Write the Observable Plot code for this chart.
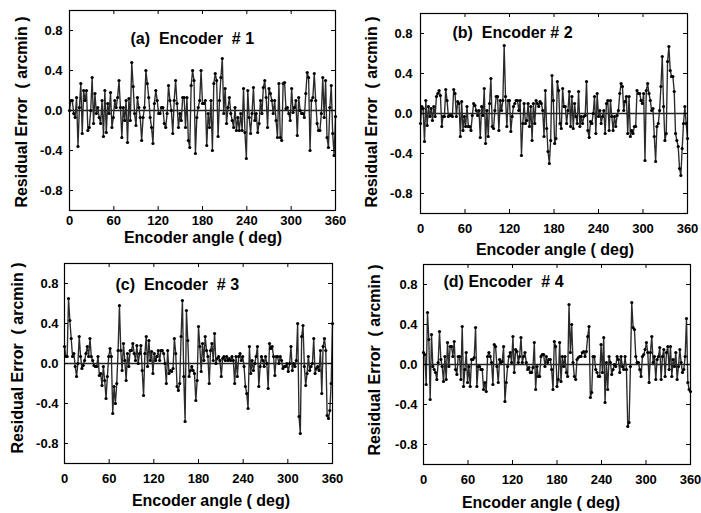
<!DOCTYPE html>
<html>
<head>
<meta charset="utf-8">
<script src="https://cdn.jsdelivr.net/npm/d3@7"></script>
<script src="https://cdn.jsdelivr.net/npm/@observablehq/plot@0.6"></script>
<style>
  html, body { margin: 0; padding: 0; background: #fff; }
  #wrap { position: relative; width: 701px; height: 513px; overflow: hidden;
          font-family: Arial, "Liberation Sans", Helvetica, sans-serif; font-weight: bold; color: #000; }
  #wrap svg { position: absolute; overflow: visible; }
  #wrap svg text { white-space: pre; }
  .xt, .yt { position: absolute; font-size: 16px; white-space: pre; line-height: 1; }
  .xt { transform: translate(-50%, -50%); }
  .yt { transform: translate(-50%, -50%) rotate(-90deg); }
</style>
</head>
<body>
<div id="wrap"></div>
<script>
// ---- data (residual error in arcmin, sampled uniformly from 0 to 360 deg) ----
const xTicks = [0, 60, 120, 180, 240, 300, 360];
const yTicks = [-0.8, -0.4, 0.0, 0.4, 0.8];
const xTitle = "Encoder angle ( deg)";
const yTitle = "Residual Error  ( arcmin )";
const panelLabels = ["(a)  Encoder  # 1", "(b)  Encoder # 2", "(c)  Encoder  # 3", "(d) Encoder  # 4"];

const encoder1 = [0.00,0.10,0.10,-0.03,-0.07,0.13,-0.36,0.03,0.27,-0.23,0.20,0.10,0.20,-0.20,-0.17,0.00,0.33,-0.13,0.17,-0.03,
0.03,-0.07,-0.13,0.10,-0.26,0.20,-0.22,0.07,-0.03,0.18,-0.17,-0.07,0.10,0.03,0.13,0.30,0.03,-0.27,0.03,-0.10,
0.10,-0.32,0.12,-0.10,0.48,0.24,-0.03,-0.15,0.13,0.03,-0.07,-0.30,-0.07,0.03,0.40,0.27,0.13,-0.07,-0.17,-0.33,
0.07,0.20,0.10,-0.03,-0.03,0.03,0.03,-0.13,-0.17,-0.03,0.25,0.10,0.00,-0.23,0.10,0.30,0.07,-0.17,-0.03,-0.10,
0.13,0.13,-0.17,0.13,-0.30,-0.37,0.25,0.40,0.30,-0.43,-0.07,0.03,0.10,0.40,0.07,0.07,0.10,-0.35,-0.03,-0.17,
0.10,-0.40,0.27,0.37,0.30,-0.26,0.10,0.33,0.52,-0.03,0.22,-0.13,0.03,0.13,-0.03,-0.10,-0.17,0.03,-0.20,-0.07,
-0.20,-0.03,-0.20,0.22,-0.22,-0.48,0.20,-0.07,-0.23,-0.03,0.23,-0.10,-0.03,-0.22,-0.13,0.10,-0.03,0.23,0.30,0.13,
-0.17,0.22,0.17,0.10,-0.03,0.10,-0.10,-0.27,0.27,-0.27,-0.30,0.27,0.28,0.02,0.03,-0.03,-0.10,0.22,-0.02,0.03,
0.10,-0.25,0.13,0.00,-0.03,-0.03,-0.07,0.17,0.38,0.33,-0.40,0.10,0.13,0.37,0.10,-0.13,-0.20,-0.20,-0.03,0.33,
-0.07,0.30,-0.27,-0.37,0.03,0.25,-0.23,-0.45,-0.06];

const encoder2 = [-0.10,0.07,0.05,-0.28,0.13,-0.12,0.07,-0.03,0.05,-0.07,0.07,-0.03,0.17,0.20,0.23,0.18,-0.13,-0.03,-0.03,0.24,
0.13,-0.03,-0.02,-0.02,-0.03,0.24,0.20,-0.03,0.12,0.10,-0.23,0.12,-0.17,-0.03,-0.13,0.07,-0.13,-0.13,-0.17,-0.02,
0.10,0.08,0.03,-0.02,0.03,-0.24,0.07,-0.02,0.25,-0.30,0.03,-0.23,0.10,0.35,-0.13,-0.15,0.03,0.17,0.17,-0.17,
0.13,0.03,0.13,0.68,0.17,-0.13,0.13,0.13,-0.18,-0.03,0.07,0.10,0.13,0.13,0.03,0.13,-0.42,-0.10,0.10,-0.10,
-0.07,0.10,-0.13,0.07,-0.27,0.10,-0.10,0.13,0.10,0.07,0.12,0.10,0.03,-0.23,0.23,-0.15,-0.38,-0.50,-0.27,0.38,
0.13,-0.30,-0.25,0.32,0.23,-0.10,-0.15,0.25,0.07,0.07,-0.10,0.03,0.22,-0.13,0.17,-0.15,0.10,-0.03,-0.10,0.22,
-0.13,-0.03,-0.10,-0.03,-0.02,0.32,-0.17,-0.24,-0.08,-0.10,0.00,0.17,-0.20,0.20,-0.03,0.03,-0.10,-0.03,0.03,-0.20,
0.10,0.13,-0.17,0.13,-0.03,-0.17,-0.03,-0.13,-0.02,0.03,0.20,0.30,0.27,0.03,0.12,0.17,-0.20,0.17,-0.23,-0.17,
-0.20,-0.13,-0.13,0.23,0.20,0.20,0.13,0.10,0.20,-0.47,0.23,0.30,0.20,0.13,0.03,0.05,-0.23,-0.48,-0.13,-0.10,
0.03,0.27,0.57,0.07,-0.27,-0.20,0.52,0.67,0.43,0.37,0.37,0.22,-0.20,-0.27,-0.33,-0.55,-0.62,-0.35,-0.10,0.07,
-0.10,-0.25];

const encoder3 = [0.17,0.07,0.07,0.65,0.43,0.25,0.07,0.10,-0.03,-0.13,0.00,0.27,0.07,-0.05,-0.02,0.03,0.10,0.17,0.07,0.25,
0.07,0.03,-0.02,-0.03,-0.03,0.07,-0.12,-0.10,-0.22,-0.03,-0.17,-0.35,-0.13,0.07,0.15,0.07,-0.50,-0.23,-0.40,-0.20,
0.13,0.58,0.13,-0.07,0.20,0.03,-0.17,0.10,-0.03,0.13,0.13,0.20,0.10,0.03,0.18,0.00,0.10,0.18,-0.07,-0.32,
0.10,0.27,-0.03,0.23,0.03,0.12,-0.10,0.10,0.03,0.07,0.13,0.03,0.13,0.13,0.10,0.00,-0.20,0.13,-0.10,-0.07,
-0.08,-0.05,0.25,0.10,-0.23,-0.27,-0.20,0.27,0.63,-0.13,-0.58,0.53,0.23,-0.13,-0.07,-0.03,-0.07,-0.10,-0.37,-0.17,
0.37,0.17,-0.08,0.20,0.03,0.27,0.13,0.07,-0.20,0.13,0.20,0.03,0.30,0.00,0.05,0.07,0.03,-0.13,0.05,0.07,
0.03,0.07,0.03,0.05,0.03,0.07,0.03,-0.20,0.07,-0.13,0.07,0.10,0.03,0.07,-0.03,-0.23,-0.30,-0.45,0.17,-0.10,
0.03,-0.07,0.00,0.07,0.17,-0.23,-0.03,0.07,0.03,-0.03,0.07,0.00,-0.25,0.20,0.15,0.17,0.07,-0.12,0.07,0.07,
0.00,0.07,0.03,-0.05,-0.03,-0.03,0.00,-0.08,0.00,0.17,-0.07,0.00,-0.03,0.03,0.40,-0.53,-0.70,0.27,0.38,-0.03,
-0.22,-0.10,0.07,-0.07,-0.03,0.00,0.25,-0.10,-0.05,-0.03,-0.07,0.13,-0.30,0.17,0.25,0.13,-0.52,-0.55,-0.47,-0.20,
0.40];

const encoder4 = [0.12,0.10,-0.20,0.52,0.25,-0.35,0.30,-0.02,-0.05,-0.08,-0.15,0.02,0.33,0.05,-0.02,-0.17,0.08,-0.15,0.22,-0.02,
0.18,0.18,0.08,0.23,-0.05,-0.10,0.08,0.08,-0.15,0.38,-0.22,-0.05,0.12,-0.18,-0.02,-0.22,0.05,0.05,0.07,0.37,
-0.22,-0.02,-0.02,-0.05,-0.05,-0.25,-0.18,-0.27,0.08,0.12,0.08,0.02,-0.20,0.20,0.18,-0.02,-0.18,0.05,0.02,0.03,
0.18,-0.37,-0.18,-0.02,0.08,0.12,0.02,0.28,-0.08,0.15,0.13,0.02,0.08,0.27,0.02,0.08,0.12,0.02,-0.05,-0.03,
-0.08,-0.08,-0.03,0.22,-0.25,-0.02,-0.12,-0.12,0.08,0.10,0.10,-0.02,0.08,0.02,0.05,0.05,-0.05,-0.25,0.23,0.18,
-0.22,-0.15,0.22,-0.17,0.08,-0.02,0.08,-0.08,-0.12,0.60,0.12,0.40,0.02,-0.12,-0.15,0.05,0.07,0.08,0.08,0.12,
0.13,0.08,0.13,0.28,0.38,-0.33,-0.28,0.08,0.08,-0.05,-0.08,-0.12,-0.12,0.20,-0.08,0.27,-0.38,0.02,-0.25,0.08,
0.02,-0.10,-0.05,0.00,-0.02,0.08,0.05,-0.08,0.08,-0.02,-0.05,0.08,-0.05,-0.62,-0.58,-0.02,0.62,0.37,0.35,0.08,
0.02,0.02,-0.05,-0.12,0.08,0.10,0.15,0.22,0.12,-0.18,0.12,0.28,0.02,0.08,-0.15,0.05,0.08,0.17,-0.15,0.08,
0.15,-0.12,0.12,0.18,-0.05,0.18,-0.12,0.05,-0.02,0.12,-0.15,-0.02,0.15,0.02,-0.08,-0.05,0.08,0.46,-0.18,-0.25,
-0.27];

const series = [encoder1, encoder2, encoder3, encoder4];

// ---- layout (pixels) ----
const panels = [
  {left: 0,   top: 0,   width: 350, height: 256, mL: 69, mR: 15, mT: 10, mB: 46, xPad: 5,  yPad: 7, lx: 61, ly: 28,
   xt: [203, 238], yt: [22, 112]},
  {left: 350, top: 0,   width: 351, height: 256, mL: 70, mR: 14, mT: 13, mB: 43, xPad: 10, yPad: 8, lx: 32, ly: 19,
   xt: [555, 250], yt: [372, 112]},
  {left: 0,   top: 256, width: 350, height: 257, mL: 64, mR: 18, mT: 7,  mB: 50, xPad: 10, yPad: 6, lx: 51, ly: 21,
   xt: [211, 501], yt: [18, 358]},
  {left: 350, top: 256, width: 351, height: 257, mL: 73, mR: 11, mT: 8,  mB: 49, xPad: 10, yPad: 6, lx: 20, ly: 17,
   xt: [541, 503], yt: [375, 360]}
];

const wrap = document.getElementById("wrap");
const TL = 4; // inward tick length

panels.forEach((p, k) => {
  const vals = series[k];
  const n = vals.length;
  const data = vals.map((v, i) => ({angle: i * 360 / (n - 1), err: v}));
  const fw = p.width - p.mL - p.mR;
  const fh = p.height - p.mT - p.mB;
  const chart = Plot.plot({
    width: p.width, height: p.height,
    marginLeft: p.mL, marginRight: p.mR, marginTop: p.mT, marginBottom: p.mB,
    style: {fontFamily: 'Arial, "Liberation Sans", Helvetica, sans-serif', fontSize: "13px", fontWeight: "bold", background: "transparent", color: "#000"},
    x: {domain: [0, 360]},
    y: {domain: [-1, 1]},
    marks: [
      Plot.ruleY([0], {stroke: "#222", strokeWidth: 1.4}),
      Plot.line(data, {x: "angle", y: "err", stroke: "#2a2a2a", strokeWidth: 1.4, strokeDasharray: "1.4,0.5"}),
      Plot.dot(data, {x: "angle", y: "err", r: 1.6, fill: "#000", stroke: "none"}),
      Plot.tickX(xTicks, {x: d => d, insetTop: fh - TL, stroke: "#000"}),
      Plot.tickX(xTicks, {x: d => d, insetBottom: fh - TL, stroke: "#000"}),
      Plot.tickY(yTicks, {y: d => d, insetRight: fw - TL, stroke: "#000"}),
      Plot.tickY(yTicks, {y: d => d, insetLeft: fw - TL, stroke: "#000"}),
      Plot.frame({stroke: "#000", strokeWidth: 1.2}),
      Plot.axisX({ticks: xTicks, tickSize: 0, tickPadding: p.xPad, label: null, tickFormat: d => String(d)}),
      Plot.axisY({ticks: yTicks, tickSize: 0, tickPadding: p.yPad, label: null, tickFormat: d => d.toFixed(1)}),
      Plot.text([panelLabels[k]], {frameAnchor: "top-left", dx: p.lx, dy: p.ly, textAnchor: "start", lineAnchor: "middle",
        fontSize: 16, fontWeight: "bold", fill: "#000"})
    ]
  });
  chart.style.left = p.left + "px";
  chart.style.top = p.top + "px";
  wrap.appendChild(chart);

  const xt = document.createElement("div");
  xt.className = "xt";
  xt.textContent = xTitle;
  xt.style.left = p.xt[0] + "px";
  xt.style.top = p.xt[1] + "px";
  wrap.appendChild(xt);

  const yt = document.createElement("div");
  yt.className = "yt";
  yt.textContent = yTitle;
  yt.style.left = p.yt[0] + "px";
  yt.style.top = p.yt[1] + "px";
  wrap.appendChild(yt);
});
</script>
</body>
</html>
